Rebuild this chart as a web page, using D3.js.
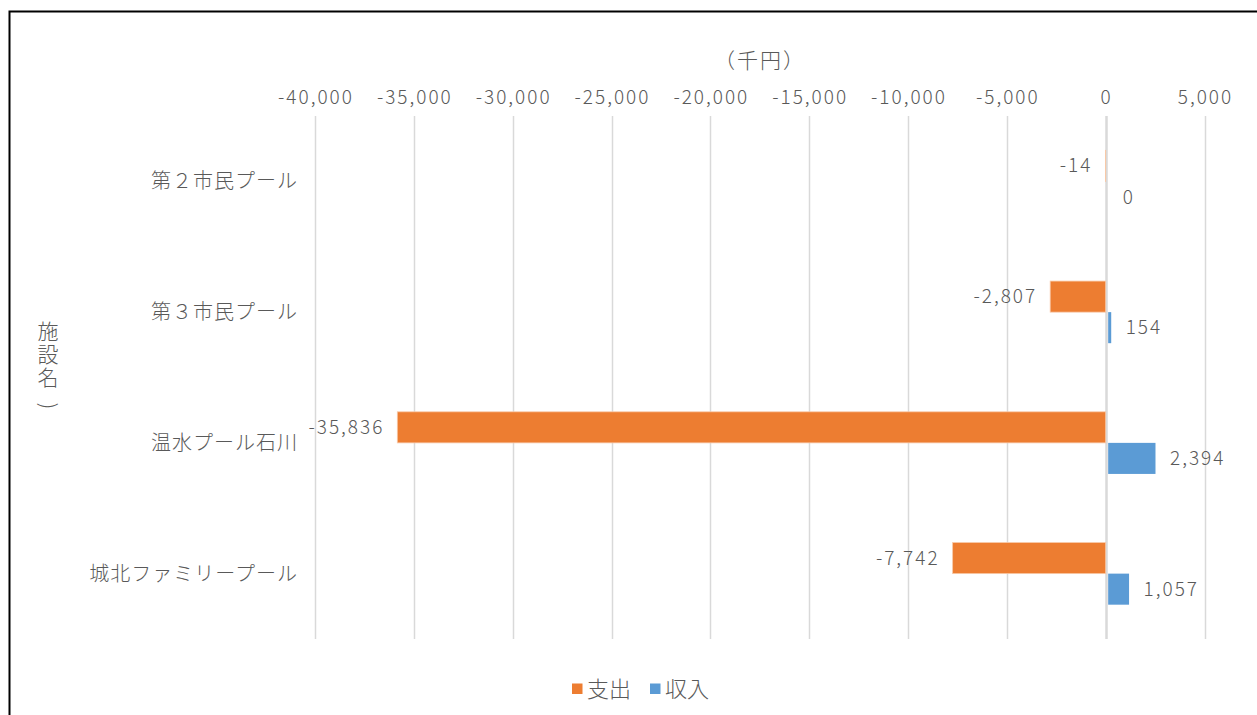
<!DOCTYPE html>
<html>
<head>
<meta charset="utf-8">
<script src="https://cdn.jsdelivr.net/npm/d3@7"></script>
<style>
  body { margin: 0; background: #fff; }
  text { font-family: "Noto Sans CJK JP", "Noto Sans", sans-serif; fill: #595959; font-weight: 300; }
</style>
</head>
<body>
<svg id="chart" width="1257" height="715"></svg>
<script>
"use strict";

// data
var categories = ["第２市民プール", "第３市民プール", "温水プール石川", "城北ファミリープール"];
var expense = [-14, -2807, -35836, -7742];   // 支出
var income = [0, 154, 2394, 1057];            // 収入
var seriesNames = ["支出", "収入"];
var seriesColors = ["#ed7d31", "#5b9bd5"];
var tickValues = [-40000, -35000, -30000, -25000, -20000, -15000, -10000, -5000, 0, 5000];

const PLOT_LEFT = 315;
const PLOT_RIGHT = 1204.5;
const PLOT_TOP = 116;
const PLOT_BOTTOM = 639;
const NUM_SPACING = 2;

var svg = d3.select("#chart");

svg.append("rect")
    .attr("width", 1257).attr("height", 715)
    .attr("fill", "#fff");

// outer frame
svg.append("rect")
    .attr("x", 9.5).attr("y", 11.5)
    .attr("width", 1270).attr("height", 730)
    .attr("fill", "none")
    .attr("stroke", "#000")
    .attr("stroke-width", 2);

var x = d3.scaleLinear()
    .domain([-40000, 5000])
    .range([PLOT_LEFT, PLOT_RIGHT]);

var y = d3.scaleBand()
    .domain(categories)
    .range([PLOT_TOP, PLOT_BOTTOM]);

var barH = y.bandwidth() * 31 / 130.5;
// plain hyphen for negatives, like the original
var fmt = d3.formatLocale({ decimal: ".", thousands: ",", grouping: [3], currency: ["", ""], minus: "-" }).format(",");

// gridlines
svg.append("g")
    .selectAll("line")
    .data(tickValues)
    .enter().append("line")
        .attr("x1", function(d) { return Math.round(x(d)) + 0.5; })
        .attr("x2", function(d) { return Math.round(x(d)) + 0.5; })
        .attr("y1", PLOT_TOP)
        .attr("y2", PLOT_BOTTOM)
        .attr("stroke", "#d9d9d9")
        .attr("stroke-width", function(d) { return d === 0 ? 2.5 : 1.5; });

// tick labels (top)
svg.append("g")
    .selectAll("text")
    .data(tickValues)
    .enter().append("text")
        .attr("x", function(d) { return x(d) + NUM_SPACING / 2; })
        .attr("y", 97)
        .attr("dy", "0.35em")
        .attr("text-anchor", "middle")
        .style("font-size", "19px")
        .style("letter-spacing", NUM_SPACING + "px")
        .text(function(d) { return fmt(d); });

// axis title
svg.append("text")
    .attr("x", 760)
    .attr("y", 61)
    .attr("dy", "0.35em")
    .attr("text-anchor", "middle")
    .style("font-size", "21px")
    .style("letter-spacing", "2px")
    .text("（千円）");

// category labels
svg.append("g")
    .selectAll("text")
    .data(categories)
    .enter().append("text")
        .attr("x", 298)
        .attr("y", function(d) { return y(d) + y.bandwidth() / 2; })
        .attr("dy", "0.35em")
        .attr("text-anchor", "end")
        .style("font-size", "20px")
        .style("letter-spacing", "1px")
        .text(function(d) { return d; });

// vertical y-axis title
svg.append("text")
    .attr("x", 48)
    .attr("y", 321)
    .style("writing-mode", "vertical-rl")
    .style("font-size", "21px")
    .style("letter-spacing", "2px")
    .text("施設名");
svg.append("text")
    .attr("transform", "translate(48,406) rotate(90)")
    .attr("dy", "0.35em")
    .attr("text-anchor", "middle")
    .style("font-size", "21px")
    .text(")");

// bars
var rows = categories.map(function(c, i) { return { cat: c, exp: expense[i], inc: income[i] }; });

var groups = svg.append("g")
    .selectAll("g")
    .data(rows)
    .enter().append("g");

groups.append("rect")
    .attr("x", function(d) { return x(d.exp); })
    .attr("y", function(d) { return y(d.cat) + y.bandwidth() / 2 - barH; })
    .attr("width", function(d) { return x(0) - x(d.exp); })
    .attr("height", barH)
    .attr("fill", seriesColors[0])
    .attr("stroke", "#f8c9a8")
    .attr("stroke-width", 0.8);

groups.append("rect")
    .attr("x", function(d) { return x(0) + 2.5; })
    .attr("y", function(d) { return y(d.cat) + y.bandwidth() / 2; })
    .attr("width", function(d) { return x(d.inc) - x(0); })
    .attr("height", barH)
    .attr("fill", seriesColors[1]);

// data labels
groups.append("text")
    .attr("x", function(d) { return x(d.exp) - 15 + NUM_SPACING; })
    .attr("y", function(d) { return y(d.cat) + y.bandwidth() / 2 - barH / 2; })
    .attr("dy", "0.35em")
    .attr("text-anchor", "end")
    .style("font-size", "19px")
    .style("letter-spacing", NUM_SPACING + "px")
    .text(function(d) { return fmt(d.exp); });

groups.append("text")
    .attr("x", function(d) { return x(d.inc) + 17; })
    .attr("y", function(d) { return y(d.cat) + y.bandwidth() / 2 + barH / 2; })
    .attr("dy", "0.35em")
    .attr("text-anchor", "start")
    .style("font-size", "19px")
    .style("letter-spacing", NUM_SPACING + "px")
    .text(function(d) { return fmt(d.inc); });

// legend
var legendX = [572, 650];
var legend = svg.append("g")
    .selectAll("g")
    .data(seriesNames)
    .enter().append("g")
        .attr("transform", function(d, i) { return "translate(" + legendX[i] + ",689)"; });

legend.append("rect")
    .attr("x", 0).attr("y", -5.5)
    .attr("width", 10.5).attr("height", 10.5)
    .attr("fill", function(d, i) { return seriesColors[i]; });

legend.append("text")
    .attr("x", 15)
    .attr("y", 0)
    .attr("dy", "0.35em")
    .style("font-size", "22px")
    .text(function(d) { return d; });
</script>
</body>
</html>
